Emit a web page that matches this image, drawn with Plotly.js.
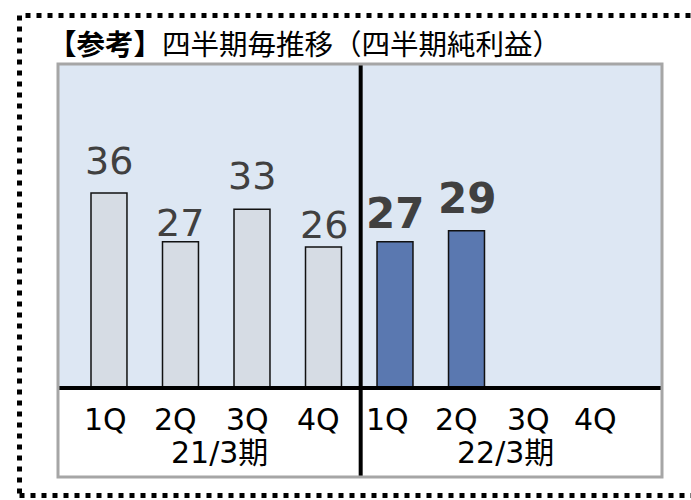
<!DOCTYPE html>
<html>
<head>
<meta charset="utf-8">
<script src="https://cdn.plot.ly/plotly-3.0.1.min.js"></script>
<style>html,body{margin:0;padding:0;background:#fff;}#chart{width:691px;height:500px;}</style>
</head>
<body>
<div id="chart"></div>
<script>
// ---- data ----
const quarters = ['1Q', '2Q', '3Q', '4Q', '1Q', '2Q', '3Q', '4Q'];
const periods = ['21/3期', '22/3期'];
const prevValues = [36, 27, 33, 26];        // 21/3期 四半期純利益
const currValues = [27, 29, null, null];    // 22/3期 四半期純利益
const titleBold = '【参考】';
const titleRest = '四半期毎推移（四半期純利益）';

// ---- layout constants ----
const W = 691, H = 500;
const M = {l: 58, r: 29, t: 64, b: 23};
const PW = W - M.l - M.r, PH = H - M.t - M.b;
const xRange = [-0.713, 7.734];
const yRange = [-16.42, 59.78];
const px2x = p => (p - M.l) / PW;           // pixel -> paper x
const py2y = p => (H - M.b - p) / PH;       // pixel -> paper y
const labelLift = [32, 19, 33.5, 22, 28, 32]; // text centre above bar top (px)
const tickShift = [-3, -5, -4, -5, -8, -10, -10, -14];

const FONT = 'DejaVu Sans, Noto Sans CJK JP, sans-serif';
const CJK = 'Noto Sans CJK JP, sans-serif';

const idxPrev = prevValues.map((_, i) => i);
const idxCurr = currValues.map((_, i) => i + prevValues.length);

const traces = [
  {type: 'bar', x: idxPrev, y: prevValues, width: 0.503,
   marker: {color: '#d6dce4', line: {color: '#111111', width: 1.5}},
   hoverinfo: 'skip'},
  {type: 'bar', x: idxCurr, y: currValues, width: 0.503,
   marker: {color: '#5a78b0', line: {color: '#111111', width: 1.5}},
   hoverinfo: 'skip'}
];

const annotations = [];
// title
annotations.push({
  xref: 'paper', yref: 'paper', x: px2x(46), y: py2y(42),
  xanchor: 'left', yanchor: 'middle', showarrow: false,
  text: '<b>' + titleBold + '</b>' + titleRest,
  font: {family: CJK, size: 28.5, color: '#000'}
});
// value labels
const allVals = prevValues.concat(currValues);
allVals.forEach((v, i) => {
  if (v === null) return;
  const bold = i >= prevValues.length;
  annotations.push({
    xref: 'x', yref: 'y', x: i, y: v, xanchor: 'center', yanchor: 'middle',
    yshift: labelLift[i], showarrow: false,
    text: bold ? '<b>' + v + '</b>' : String(v),
    font: {family: FONT, size: bold ? 42 : 38, color: '#404040'}
  });
});
// quarter tick labels
quarters.forEach((q, i) => {
  annotations.push({
    xref: 'x', yref: 'paper', x: i, y: py2y(419), xanchor: 'center', yanchor: 'middle',
    xshift: tickShift[i], showarrow: false, text: q,
    font: {family: FONT, size: 30, color: '#000'}
  });
});
// period labels
periods.forEach((p, k) => {
  annotations.push({
    xref: 'x', yref: 'paper', x: k * 4 + 1.5, y: py2y(452), xanchor: 'center', yanchor: 'middle',
    xshift: 3, showarrow: false, text: p,
    font: {family: FONT, size: 30, color: '#000'}
  });
});

const shapes = [
  // light blue chart background (above baseline)
  {type: 'rect', xref: 'paper', yref: 'y', x0: 0, x1: 1, y0: 0, y1: yRange[1],
   fillcolor: '#dde7f3', line: {width: 0}, layer: 'below'},
  // baseline
  {type: 'line', xref: 'paper', yref: 'y', x0: 0, x1: 1, y0: 0, y1: 0,
   line: {color: '#000', width: 4}, layer: 'above'},
  // divider between fiscal years
  {type: 'line', xref: 'x', yref: 'paper', x0: 3.52, x1: 3.52, y0: 0, y1: 1,
   line: {color: '#000', width: 4}, layer: 'above'},
  // grey frame
  {type: 'rect', xref: 'paper', yref: 'paper', x0: 0, x1: 1, y0: 0, y1: 1,
   line: {color: '#a6a6a6', width: 3}, layer: 'above'},
  // dotted outer border
  {type: 'rect', xref: 'paper', yref: 'paper',
   x0: px2x(19.5), x1: px2x(720), y0: py2y(495.5), y1: py2y(15.5),
   line: {color: '#000', width: 5, dash: '5px,6px'}, layer: 'above'}
];

const layout = {
  width: W, height: H,
  margin: M,
  paper_bgcolor: '#ffffff', plot_bgcolor: '#ffffff',
  showlegend: false,
  barmode: 'overlay',
  xaxis: {type: 'linear', range: xRange, showgrid: false, zeroline: false,
          showticklabels: false, ticks: '', fixedrange: true},
  yaxis: {range: yRange, showgrid: false, zeroline: false,
          showticklabels: false, ticks: '', fixedrange: true},
  shapes: shapes,
  annotations: annotations
};

Plotly.newPlot('chart', traces, layout, {staticPlot: true, displayModeBar: false});
</script>
</body>
</html>
